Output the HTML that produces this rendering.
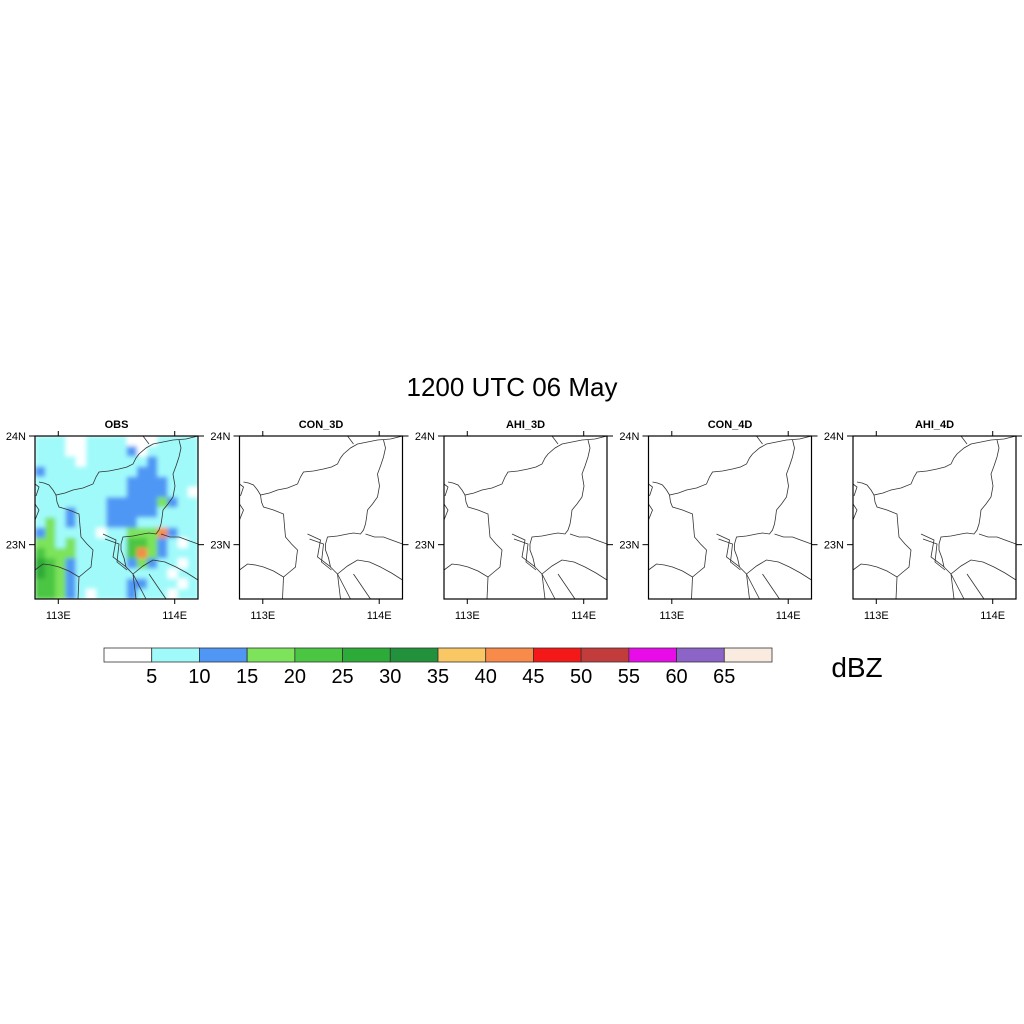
<!DOCTYPE html>
<html><head><meta charset="utf-8"><style>
html,body{margin:0;padding:0;background:#fff;}
svg{display:block;font-family:"Liberation Sans",sans-serif;}
</style></head><body>
<svg id="chart" width="1024" height="1024" viewBox="0 0 1024 1024">
<defs>
<filter id="soft" x="0" y="0" width="1" height="1"><feGaussianBlur stdDeviation="2.2"/></filter>
<clipPath id="pclip"><rect x="0" y="0" width="163" height="163"/></clipPath>
</defs>
<text x="512" y="396" font-size="26" text-anchor="middle">1200 UTC 06 May</text>
<g id="panels"></g>
<g id="colorbar"></g>
<text x="857" y="677" font-size="28" text-anchor="middle">dBZ</text>
</svg>
<script>
const panelTitles = ["OBS","CON_3D","AHI_3D","CON_4D","AHI_4D"];
const levels = [5,10,15,20,25,30,35,40,45,50,55,60,65];
const levelColors = ["#ffffff","#a0fafa","#5097f5","#7ce35a","#4bc642","#2dab38","#21913b","#f9c865","#f88a4a","#f41818","#c23c3c","#e80ce8","#8c64c8","#faebe1"];
const lonTicks = [113,114];
const lonLabels = ["113E","114E"];
const latTicks = [24,23];
const latLabels = ["24N","23N"];
// OBS reflectivity grid (dBZ), 16x16, rows north->south
const obsGrid = [
[7,7,7,0,0,7,7,7,7,0,0,0,7,7,7,7],
[7,7,7,0,0,7,7,7,7,12,0,7,7,7,7,7],
[7,7,7,7,0,7,7,7,7,7,7,12,7,7,7,7],
[12,7,7,7,7,7,7,7,7,7,12,12,7,7,7,7],
[7,7,7,7,7,7,7,7,7,12,12,12,12,7,7,7],
[7,7,7,7,7,7,7,7,7,12,12,12,12,7,7,0],
[7,7,7,7,7,7,7,12,12,12,12,12,17,12,7,7],
[7,7,7,12,7,7,7,12,12,12,12,12,7,7,7,7],
[7,17,7,12,7,7,7,12,12,12,7,7,7,7,7,7],
[12,17,7,7,7,7,0,7,7,17,17,17,42,12,7,7],
[17,17,7,17,7,7,7,7,7,22,22,17,12,7,0,7],
[22,17,17,17,7,7,7,7,7,22,42,17,12,7,7,7],
[27,22,17,12,7,7,7,7,7,12,17,12,7,7,0,7],
[27,22,17,12,7,7,7,7,7,7,7,7,7,0,7,7],
[22,22,17,12,7,7,7,7,7,12,12,7,7,7,0,7],
[22,22,17,12,7,0,7,7,7,12,7,7,7,0,7,7]
];
const borders = [
[[4,46],[9,47],[14,49],[18,54],[21,59],[30,57],[38,54],[48,52],[58,48],[61,41],[64,36],[74,35],[84,33],[92,31],[98,28],[101,22],[104,18],[111,12],[118,8],[128,6],[138,4],[151,3],[163,0]],
[[108,0],[114,8]],
[[144,4],[146,12],[144,21],[141,30],[138,38],[140,50],[138,61],[133,68],[128,74],[127,82],[126,88],[124,94],[121,98],[114,97],[108,98],[98,100],[88,101],[86,108],[86,114],[89,122],[91,131]],
[[21,59],[22,66],[24,71],[34,74],[44,78],[45,90],[46,101],[52,108],[58,114],[57,122],[56,131],[50,136],[44,141],[34,135],[24,131],[16,129],[8,128],[0,134]],
[[44,141],[43,163]],
[[126,98],[135,101],[144,101],[152,104],[163,108]],
[[98,138],[108,130],[118,124],[130,126],[141,131],[152,137],[163,144]],
[[68,98],[81,104],[78,121],[90,130],[98,138],[101,163]],
[[98,138],[111,163]],
[[114,138],[131,163]],
[[0,68],[4,74],[0,84]],
[[0,48],[4,51],[1,60]],
[[70,103],[84,108],[82,126],[92,134]]
];
const NS="http://www.w3.org/2000/svg";
function mk(tag,attrs,parent){const e=document.createElementNS(NS,tag);for(const k in attrs)e.setAttribute(k,attrs[k]);parent.appendChild(e);return e;}
const lonMin=112.8,lonMax=114.2,latMin=22.5,latMax=24.0;
const PW=163,PH=163,PY=436;
function xs(lon){return (lon-lonMin)/(lonMax-lonMin)*PW;}
function ys(lat){return (latMax-lat)/(latMax-latMin)*PH;}
function colorFor(v){let i=0;while(i<levels.length&&v>=levels[i])i++;return levelColors[i];}
const panelsG=document.getElementById('panels');
panelTitles.forEach((t,pi)=>{
  const x0=35+pi*204.5;
  const g=mk('g',{transform:`translate(${x0},${PY})`},panelsG);
  
  
  const tt=mk('text',{x:PW/2,y:-8,'font-size':11,'font-weight':'bold','text-anchor':'middle'},g);tt.textContent=t;
  
  
  if(pi===0){
    const clipG=mk('g',{'clip-path':'url(#pclip)'},g);
    const fg=mk('g',{filter:'url(#soft)'},clipG);
    const cw=PW/16,ch=PH/16;
    obsGrid.forEach((row,r)=>row.forEach((v,c)=>{
      const cell=mk('rect',{x:c*cw,y:r*ch,width:cw+0.6,height:ch+0.6,fill:colorFor(v)},fg);
      
      
    }));
  }
  borders.forEach(b=>{
    const p=mk('polyline',{points:b.map(q=>q.join(',')).join(' '),fill:'none',stroke:'#333','stroke-width':0.8},g);
    
    
  });
  const frame=mk('rect',{x:0,y:0,width:PW,height:PH,fill:'none',stroke:'#000','stroke-width':1.2},g);
  
  
  lonTicks.forEach((lon,i)=>{
    const x=xs(lon);
    mk('line',{x1:x,y1:0,x2:x,y2:-5,stroke:'#000'},g);
    mk('line',{x1:x,y1:PH,x2:x,y2:PH+5,stroke:'#000'},g);
    const l=mk('text',{x:x,y:PH+20,'font-size':11,'text-anchor':'middle'},g);l.textContent=lonLabels[i];
    
    
  });
  latTicks.forEach((lat,i)=>{
    const y=ys(lat);
    mk('line',{x1:0,y1:y,x2:-6,y2:y,stroke:'#000'},g);
    mk('line',{x1:PW,y1:y,x2:PW+6,y2:y,stroke:'#000'},g);
    const l=mk('text',{x:-9,y:y+4,'font-size':11,'text-anchor':'end'},g);l.textContent=latLabels[i];
    
    
  });
});
const cb=document.getElementById('colorbar');
const cbx=104,cbw=668,cby=648,cbh=14,bw=cbw/levelColors.length;
levelColors.forEach((c,i)=>{
  const r=mk('rect',{x:cbx+i*bw,y:cby,width:bw,height:cbh,fill:c,stroke:'#333','stroke-width':0.8},cb);
  
  
});
levels.forEach((v,i)=>{
  const t=mk('text',{x:cbx+(i+1)*bw,y:683,'font-size':20,'text-anchor':'middle'},cb);t.textContent=v;
  
  
});
</script>
</body></html>
